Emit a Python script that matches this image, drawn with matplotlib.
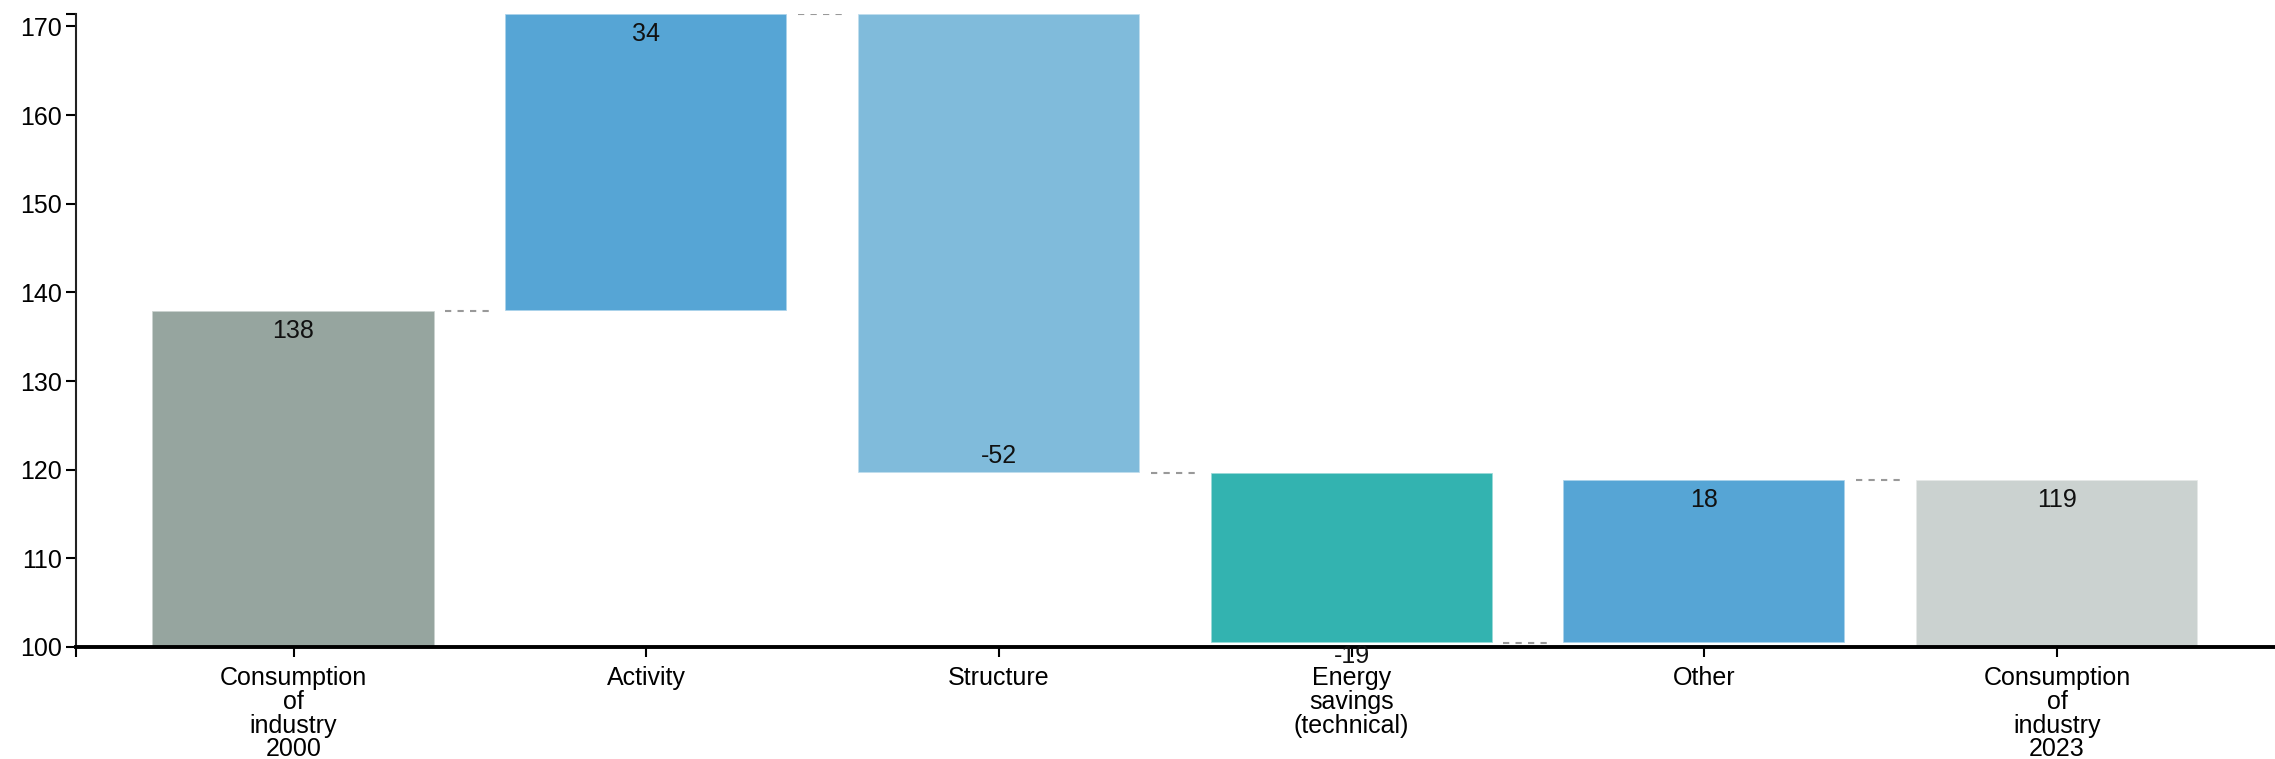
import matplotlib.pyplot as plt
import numpy as np

plt.rcParams['font.family'] = ['Liberation Sans', 'DejaVu Sans']

categories = ['Consumption\nof\nindustry\n2000', 'Activity', 'Structure',
              'Energy\nsavings\n(technical)', 'Other', 'Consumption\nof\nindustry\n2023']
values = [137.9, 33.5, -51.8, -19.1, 18.3, 118.8]
is_total = [True, False, False, False, False, True]
colors = ['#96a59f', '#56a5d5', '#80bbdb', '#33b3b0', '#56a5d5', '#cbd2d0']
y_ticks = [100, 110, 120, 130, 140, 150, 160, 170]
y_min = 100

# waterfall: bottoms and heights
bottoms, heights, ends = [], [], []
running = 0
for v, tot in zip(values, is_total):
    if tot:
        bottoms.append(y_min)
        heights.append(v - y_min)
        running = v
        ends.append(v)
    else:
        start = running
        running = running + v
        bottoms.append(min(start, running))
        heights.append(abs(v))
        ends.append(running)
y_max = max(b + h for b, h in zip(bottoms, heights))

fig = plt.figure(figsize=(22.75, 7.59), dpi=100)
ax = fig.add_axes([0.0332, 0.1476, 0.9668, 0.834])

x = np.arange(len(categories))
ax.bar(x, heights, bottom=bottoms, width=0.8, color=colors,
       edgecolor=(1, 1, 1, 0.6), linewidth=1.2, zorder=2)

# connectors
for i in range(len(categories) - 1):
    ax.plot([x[i] + 0.43, x[i + 1] - 0.43], [ends[i], ends[i]],
            color='#999999', lw=1.5, ls=(0, (3, 3)), zorder=1)

# value labels
for i, (v, tot) in enumerate(zip(values, is_total)):
    if tot or v >= 0:
        y, off = bottoms[i] + heights[i], -14.4
    else:
        y = bottoms[i]
        off = 12.2 if y - y_min > 3 else -10
    ax.annotate(f'{v:.0f}', (x[i], y), xytext=(0, off), textcoords='offset points',
                ha='center', va='center', fontsize=18, color='#111111', zorder=4)

ax.set_xlim(-0.618, 5.618)
ax.set_ylim(y_min, y_max)
ax.set_xticks(x)
ax.set_xticklabels(categories, fontsize=18, linespacing=0.98)
ax.set_yticks(y_ticks)
ax.tick_params(axis='y', labelsize=18, length=7, width=1.5, pad=3)
ax.tick_params(axis='x', length=7, width=1.5, pad=7)
# outer domain ticks (d3 style)
ax.set_yticks([y_max], minor=True)
ax.set_xticks([-0.618], minor=True)
ax.tick_params(which='minor', length=7, width=1.5)

for s in ['top', 'right']:
    ax.spines[s].set_visible(False)
ax.spines['left'].set_linewidth(1.5)
ax.spines['left'].set_color('#222222')
ax.spines['bottom'].set_linewidth(2.8)
ax.spines['bottom'].set_color('black')
ax.spines['bottom'].set_zorder(3)

fig.savefig('out.png', dpi=100)
